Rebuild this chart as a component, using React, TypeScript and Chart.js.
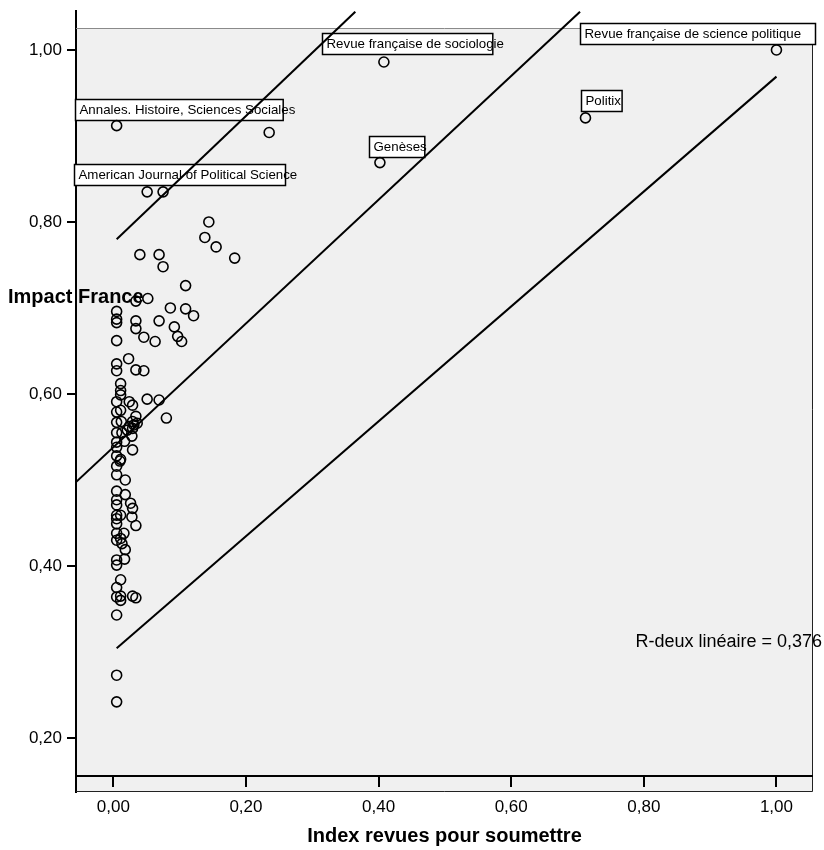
import React, { useEffect, useRef } from "react";
import { Chart, registerables } from "chart.js";

Chart.register(...registerables);

// ---- Data ----
const indexX = [
  1.0, 0.408, 0.712, 0.005, 0.235, 0.402, 0.051, 0.075, 0.144, 0.138,
  0.155, 0.183, 0.04, 0.069, 0.075, 0.109, 0.034, 0.052, 0.086, 0.109,
  0.121, 0.005, 0.005, 0.005, 0.034, 0.069, 0.034, 0.092, 0.097, 0.103,
  0.046, 0.063, 0.005, 0.023, 0.005, 0.005, 0.034, 0.046, 0.011, 0.011,
  0.011, 0.005, 0.024, 0.029, 0.051, 0.069, 0.005, 0.011, 0.08, 0.034,
  0.036, 0.029, 0.005, 0.012, 0.031, 0.005, 0.013, 0.021, 0.029, 0.024,
  0.005, 0.017, 0.028, 0.029, 0.005, 0.005, 0.011, 0.01, 0.005, 0.005,
  0.018, 0.005, 0.018, 0.005, 0.005, 0.026, 0.029, 0.005, 0.005, 0.011,
  0.005, 0.028, 0.034, 0.016, 0.005, 0.005, 0.011, 0.013, 0.018, 0.005,
  0.005, 0.017, 0.011, 0.005, 0.005, 0.011, 0.011, 0.029, 0.034, 0.005,
  0.005, 0.005,
];
const impactY = [
  1.0, 0.986, 0.921, 0.912, 0.904, 0.869, 0.835, 0.835, 0.8, 0.782,
  0.771, 0.758, 0.762, 0.762, 0.748, 0.726, 0.708, 0.711, 0.7, 0.699,
  0.691, 0.696, 0.687, 0.683, 0.685, 0.685, 0.676, 0.678, 0.667, 0.661,
  0.666, 0.661, 0.662, 0.641, 0.635, 0.627, 0.628, 0.627, 0.612, 0.604,
  0.599, 0.591, 0.591, 0.587, 0.594, 0.593, 0.579, 0.581, 0.572, 0.574,
  0.566, 0.568, 0.567, 0.568, 0.564, 0.555, 0.555, 0.558, 0.56, 0.562,
  0.544, 0.545, 0.551, 0.535, 0.538, 0.528, 0.524, 0.522, 0.516, 0.506,
  0.5, 0.487, 0.483, 0.477, 0.471, 0.473, 0.467, 0.459, 0.455, 0.459,
  0.449, 0.457, 0.447, 0.438, 0.438, 0.43, 0.432, 0.426, 0.419, 0.407,
  0.401, 0.408, 0.384, 0.375, 0.364, 0.365, 0.36, 0.365, 0.363, 0.343,
  0.273, 0.242,
];

const journalNames = [
  "Revue française de science politique",
  "Revue française de sociologie",
  "Politix",
  "Annales. Histoire, Sciences Sociales",
  "Genèses",
  "American Journal of Political Science",
];
const journalPointIndex = [0, 1, 2, 3, 5, 6];

const fitX = [-0.0563, 0.7038];
const fitY = [0.4975, 1.0445];
const lowerX = [0.005, 1.0];
const lowerY = [0.3043, 0.969];
const upperX = [0.005, 0.3649];
const upperY = [0.7799, 1.0445];

const xTicks = [0, 0.2, 0.4, 0.6, 0.8, 1.0];
const yTicks = [0.2, 0.4, 0.6, 0.8, 1.0];
const rSquaredText = "R-deux linéaire = 0,376";
const xTitle = "Index revues pour soumettre";
const yTitle = "Impact France";

// ---- Layout / style constants ----
const X_MIN = -0.0563;
const X_MAX = 1.0551;
const Y_MIN = 0.1372;
const Y_MAX = 1.0453;
const FRAME_TOP = 1.0256;
const X_AXIS_AT = 0.1558;
const FONT = "'Liberation Sans', Arial, Helvetica, sans-serif";

// label box placement: offset of box top-left from point pixel, box width
const labelBoxes = [
  { dx: -196.7, dy: -26.7, w: 235 },
  { dx: -61.6, dy: -29.4, w: 170.3 },
  { dx: -4, dy: -27.7, w: 40.6 },
  { dx: -42, dy: -27, w: 207.7 },
  { dx: -11.3, dy: -27, w: 55.3 },
  { dx: -72.7, dy: -27.7, w: 211 },
];

const fmt = (v: number) => v.toFixed(2).replace(".", ",");

const framePlugin = {
  id: "spssFrame",
  beforeDraw(chart: any) {
    const { ctx, chartArea: a, scales } = chart;
    const top = scales.y.getPixelForValue(FRAME_TOP);
    ctx.save();
    ctx.fillStyle = "#f0f0f0";
    ctx.fillRect(a.left, top, a.right - a.left, a.bottom - top);
    ctx.restore();
  },
  beforeDatasetsDraw(chart: any) {
    const { ctx, chartArea: a, scales } = chart;
    const x = scales.x;
    const y = scales.y;
    const top = y.getPixelForValue(FRAME_TOP);
    const axisY = y.getPixelForValue(X_AXIS_AT);
    ctx.save();
    // top border
    ctx.strokeStyle = "#8a8a8a";
    ctx.lineWidth = 1;
    ctx.beginPath();
    ctx.moveTo(a.left, Math.round(top) + 0.5);
    ctx.lineTo(a.right, Math.round(top) + 0.5);
    ctx.stroke();
    // right & bottom border
    ctx.strokeStyle = "#222";
    ctx.beginPath();
    ctx.moveTo(a.right - 0.5, top);
    ctx.lineTo(a.right - 0.5, a.bottom - 0.5);
    ctx.lineTo(a.left, a.bottom - 0.5);
    ctx.stroke();
    // x axis line and ticks
    ctx.strokeStyle = "#000";
    ctx.lineWidth = 2;
    ctx.beginPath();
    ctx.moveTo(a.left, Math.round(axisY));
    ctx.lineTo(a.right, Math.round(axisY));
    xTicks.forEach((t) => {
      const px = Math.round(x.getPixelForValue(t));
      ctx.moveTo(px, axisY);
      ctx.lineTo(px, axisY + 11);
    });
    ctx.stroke();
    // label boxes
    ctx.font = `13.3px ${FONT}`;
    ctx.textBaseline = "middle";
    ctx.textAlign = "left";
    journalNames.forEach((name, i) => {
      const idx = journalPointIndex[i];
      const px = x.getPixelForValue(indexX[idx]);
      const py = y.getPixelForValue(impactY[idx]);
      const b = labelBoxes[i];
      const bx = Math.round(px + b.dx) + 0.5;
      const by = Math.round(py + b.dy) + 0.5;
      ctx.fillStyle = "#ffffff";
      ctx.fillRect(bx, by, b.w, 21);
      ctx.strokeStyle = "#000";
      ctx.lineWidth = 1.5;
      ctx.strokeRect(bx, by, b.w, 21);
      ctx.fillStyle = "#000";
      ctx.fillText(name, bx + 4, by + 11);
    });
    ctx.restore();
  },
  afterDatasetsDraw(chart: any) {
    const { ctx } = chart;
    ctx.save();
    ctx.fillStyle = "#000";
    ctx.textBaseline = "alphabetic";
    ctx.textAlign = "right";
    ctx.font = `18px ${FONT}`;
    ctx.fillText(rSquaredText, 822, 647);
    ctx.textAlign = "left";
    ctx.font = `bold 20px ${FONT}`;
    ctx.fillText(yTitle, 8, 303);
    ctx.restore();
  },
};

export default function App() {
  const canvasRef = useRef<HTMLCanvasElement | null>(null);

  useEffect(() => {
    if (!canvasRef.current) return;
    const points = indexX.map((v, i) => ({ x: v, y: impactY[i] }));
    const mkLine = (xs: number[], ys: number[]) =>
      xs.map((v, i) => ({ x: v, y: ys[i] }));

    const lineStyle = {
      showLine: true,
      pointRadius: 0,
      borderColor: "#000",
      borderWidth: 2,
      fill: false,
    };

    const chart = new Chart(canvasRef.current, {
      type: "scatter",
      data: {
        datasets: [
          {
            label: "Revues",
            data: points,
            pointRadius: 5,
            pointHoverRadius: 5,
            borderColor: "#000",
            borderWidth: 1.6,
            backgroundColor: "rgba(0,0,0,0)",
          },
          { label: "fit", data: mkLine(fitX, fitY), ...lineStyle },
          { label: "lower", data: mkLine(lowerX, lowerY), ...lineStyle },
          { label: "upper", data: mkLine(upperX, upperY), ...lineStyle },
        ],
      },
      options: {
        animation: false,
        responsive: true,
        maintainAspectRatio: false,
        layout: { padding: { top: 11, right: 11, left: 0, bottom: 0 } },
        plugins: {
          legend: { display: false },
          tooltip: { enabled: false },
        },
        scales: {
          x: {
            type: "linear",
            min: X_MIN,
            max: X_MAX,
            afterBuildTicks: (s: any) => {
              s.ticks = xTicks.map((v) => ({ value: v }));
            },
            afterFit: (s: any) => {
              s.height = 58;
              s.paddingLeft = 0;
              s.paddingRight = 0;
              s.paddingTop = 0;
              s.paddingBottom = 0;
            },
            grid: { display: false, drawTicks: false },
            border: { display: false },
            ticks: {
              padding: 5,
              color: "#000",
              maxRotation: 0,
              autoSkip: false,
              font: { family: FONT, size: 17 },
              callback: (v: any) => fmt(Number(v)),
            },
            title: {
              display: true,
              text: xTitle,
              color: "#000",
              font: { family: FONT, size: 20, weight: "bold" },
              padding: { top: 0, bottom: 2 },
            },
          },
          y: {
            type: "linear",
            min: Y_MIN,
            max: Y_MAX,
            afterBuildTicks: (s: any) => {
              s.ticks = yTicks.map((v) => ({ value: v }));
            },
            afterFit: (s: any) => {
              s.width = 76;
              s.paddingLeft = 0;
              s.paddingRight = 0;
              s.paddingTop = 0;
              s.paddingBottom = 0;
            },
            grid: {
              drawOnChartArea: false,
              drawTicks: true,
              tickLength: 9,
              color: "#000",
              lineWidth: 2,
            },
            border: { display: true, color: "#000", width: 2 },
            ticks: {
              padding: 5,
              color: "#000",
              autoSkip: false,
              font: { family: FONT, size: 17 },
              callback: (v: any) => fmt(Number(v)),
            },
          },
        },
      },
      plugins: [framePlugin],
    } as any);

    return () => chart.destroy();
  }, []);

  return (
    <div
      style={{
        position: "absolute",
        left: 0,
        top: 0,
        width: 824,
        height: 850,
        background: "#fff",
      }}
    >
      <canvas ref={canvasRef} />
    </div>
  );
}
